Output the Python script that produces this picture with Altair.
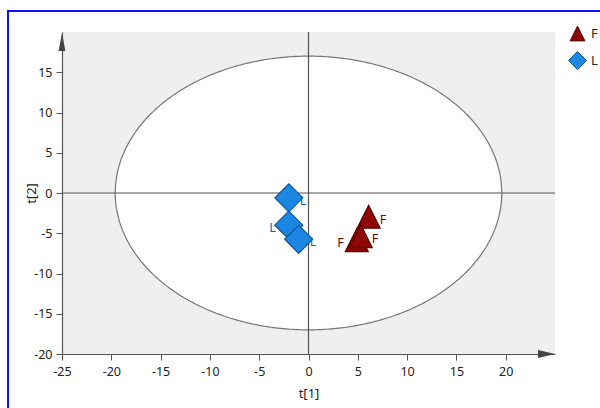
import altair as alt
import numpy as np
import pandas as pd

# Scores of each sample on the first two components
groups = ["L", "L", "L", "F", "F", "F"]
t1 = [-2.0, -2.0, -1.0, 6.1, 4.9, 5.3]
t2 = [-0.6, -4.0, -5.75, -2.95, -5.85, -5.35]
label_side = ["right", "left", "right", "right", "left", "right"]

# Hotelling T2 (95%) ellipse semi-axes
ellipse_a = 19.6
ellipse_b = 17.0

x_domain = [-25, 25]
y_domain = [-20, 20]
x_ticks = [-25, -22.5, -20, -17.5, -15, -12.5, -10, -7.5, -5, -2.5, 0,
           2.5, 5, 7.5, 10, 12.5, 15, 17.5, 20, 22.5]
y_ticks = [-20, -17.5, -15, -12.5, -10, -7.5, -5, -2.5, 0,
           2.5, 5, 7.5, 10, 12.5, 15, 17.5]

group_domain = ["F", "L"]
fill_range = ["#8e0606", "#1c87e3"]
stroke_range = ["#5c0000", "#0f5796"]
text_range = ["#7a0000", "#1565b8"]
tri_path = "M0,-0.82L-0.82,0.82L0.82,0.82Z"
shape_range = [tri_path, "diamond"]

FONT = "Noto Sans"
AXIS_GRAY = "#555555"

scores = pd.DataFrame({"t1": t1, "t2": t2, "group": groups, "side": label_side})

theta = np.linspace(0, np.pi, 241)
ellipse = pd.DataFrame({
    "ex": ellipse_a * np.cos(theta),
    "ey": ellipse_b * np.sin(theta),
    "ey2": -ellipse_b * np.sin(theta),
})

major_test = "datum.value % 5 === 0"
label_expr = "datum.value % 5 === 0 ? '' + datum.value : ''"

x_scale = alt.Scale(domain=x_domain, nice=False, zero=False)
y_scale = alt.Scale(domain=y_domain, nice=False, zero=False)

x_axis = alt.Axis(
    values=x_ticks, labelExpr=label_expr, grid=False,
    tickSize={"condition": {"test": major_test, "value": 6}, "value": 3},
    tickColor=AXIS_GRAY, domainColor=AXIS_GRAY, domainWidth=1.2, tickWidth=1,
    labelFont=FONT, labelFontSize=12.5, labelColor="#222222", labelPadding=5,
    labelFlush=False, labelOverlap=False,
    title="t[1]", titleFont=FONT, titleFontSize=13, titleFontWeight="normal",
    titleColor="#222222", titleX=246.5, titleY=39, titleBaseline="middle",
)
y_axis = alt.Axis(
    values=y_ticks, labelExpr=label_expr, grid=False,
    tickSize={"condition": {"test": major_test, "value": 6}, "value": 3},
    tickColor=AXIS_GRAY, domainColor=AXIS_GRAY, domainWidth=1.2, tickWidth=1,
    labelFont=FONT, labelFontSize=12.5, labelColor="#222222", labelPadding=4,
    labelFlush=False, labelOverlap=False,
    title="t[2]", titleFont=FONT, titleFontSize=13, titleFontWeight="normal",
    titleColor="#222222", titleX=-31, titleY=161, titleBaseline="middle",
    titleAngle=270,
)

# Ellipse: white inside, thin gray outline
ellipse_layer = alt.Chart(ellipse).mark_area(
    fill="white", stroke="#777777", strokeWidth=1.2
).encode(
    x=alt.X("ex:Q", scale=x_scale, axis=x_axis),
    y=alt.Y("ey:Q", scale=y_scale, axis=y_axis),
    y2="ey2:Q",
)

# Crosshair through the origin
vline = alt.Chart().mark_rule(color=AXIS_GRAY, strokeWidth=1.2).encode(x=alt.datum(0))
hline = alt.Chart().mark_rule(color=AXIS_GRAY, strokeWidth=1.2).encode(y=alt.datum(0))

# Arrow heads at the ends of both axes
y_arrow = alt.Chart().mark_point(
    shape="M0,-1L-0.38,1L0.38,1Z", size=324, filled=True, color="#444444", opacity=1
).encode(x=alt.value(0), y=alt.value(10))
x_arrow = alt.Chart().mark_point(
    shape="M1,0L-1,-0.48L-1,0.48Z", size=289, filled=True, color="#444444", opacity=1
).encode(x=alt.value(484.5), y=alt.value(322))

points = alt.Chart(scores).mark_point(opacity=1, strokeWidth=1.2, size=784).encode(
    x=alt.X("t1:Q", scale=x_scale),
    y=alt.Y("t2:Q", scale=y_scale),
    fill=alt.Fill("group:N", scale=alt.Scale(domain=group_domain, range=fill_range),
                  legend=alt.Legend(title=None, orient="none", legendX=506, legendY=-8,
                                    padding=0, symbolSize=324, symbolStrokeWidth=1,
                                    labelFont=FONT, labelFontSize=13, labelColor="#222222",
                                    labelOffset=4, rowPadding=6)),
    stroke=alt.Stroke("group:N", scale=alt.Scale(domain=group_domain, range=stroke_range)),
    shape=alt.Shape("group:N", scale=alt.Scale(domain=group_domain, range=shape_range)),
)

label_color = alt.Color("group:N", scale=alt.Scale(domain=group_domain, range=text_range),
                        legend=None)

labels_right = alt.Chart(scores).transform_filter("datum.side === 'right'").mark_text(
    align="left", baseline="middle", dx=11, dy=3, font=FONT, fontSize=12.5
).encode(x="t1:Q", y="t2:Q", text="group:N", color=label_color)

labels_left = alt.Chart(scores).transform_filter("datum.side === 'left'").mark_text(
    align="right", baseline="middle", dx=-13, dy=3, font=FONT, fontSize=12.5
).encode(x="t1:Q", y="t2:Q", text="group:N", color=label_color)

# Blue outer frame around the figure
frame = alt.Chart().mark_rect(
    filled=False, fillOpacity=0, stroke="#1010ff", strokeWidth=2
).encode(x=alt.value(-54), x2=alt.value(560), y=alt.value(-21), y2=alt.value(400))

chart = alt.layer(
    ellipse_layer, vline, hline, y_arrow, x_arrow, points, labels_right, labels_left, frame
).properties(
    width=493, height=322,
    padding={"left": 62, "top": 32, "right": 45, "bottom": 54},
    autosize=alt.AutoSizeParams(type="none"),
    background="white",
).configure_view(fill="#efefef", strokeWidth=0)

chart.save("out.html", embed_options={"renderer": "svg", "actions": False})
